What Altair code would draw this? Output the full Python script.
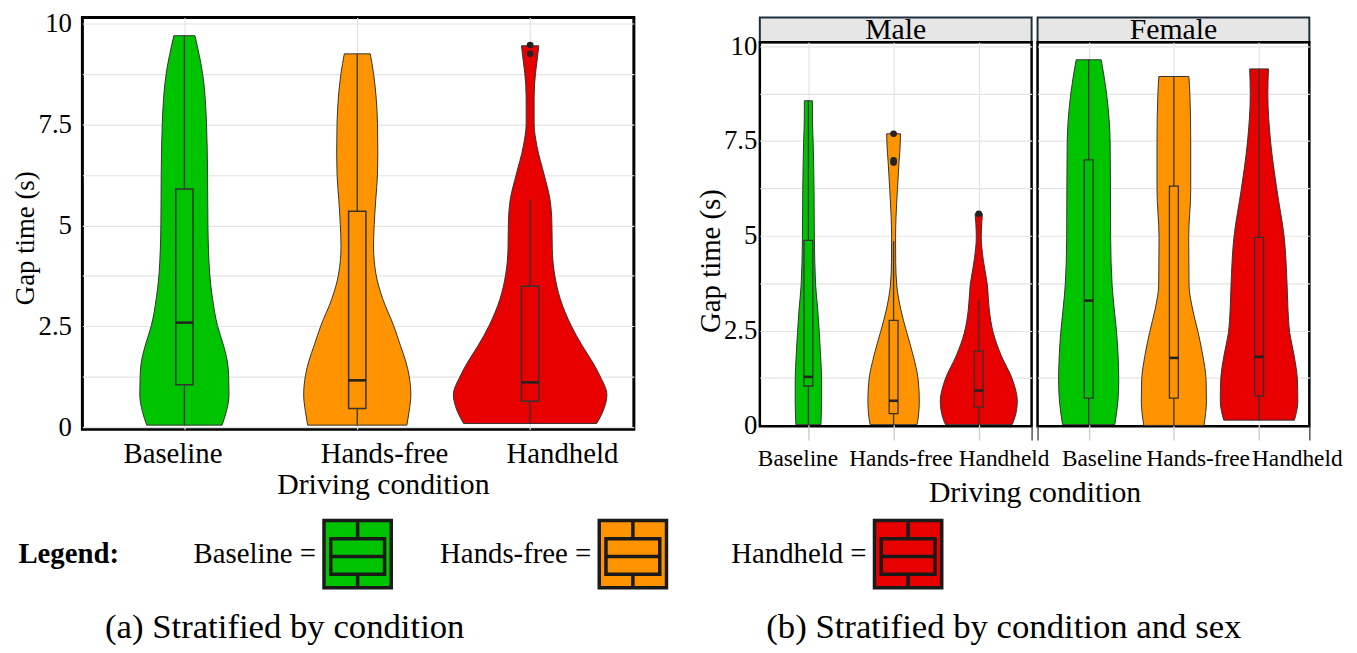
import altair as alt
import pandas as pd

FONT = "Liberation Serif"
CONDITIONS = ["Baseline", "Hands-free", "Handheld"]
COLORS = ["#00c300", "#ff9400", "#e80000"]
SEXES = ["Male", "Female"]
CAPTIONS = ["(a) Stratified by condition", "(b) Stratified by condition and sex"]
LEGEND_TITLE = "Legend:"
Y_TITLE = "Gap time (s)"
X_TITLE = "Driving condition"
Y_TICKS = [0, 1.25, 2.5, 3.75, 5, 6.25, 7.5, 8.75, 10]

# ---- (a) all drivers: violin outline (gap time level, half width in category units)
ALL_BASE_Y = [9.70, 8.77, 7.52, 6.27, 5.02, 3.77, 3.18, 2.52, 2.03, 1.62, 1.27, 0.80, 0.39, 0.05]
ALL_BASE_W = [0.061, 0.105, 0.128, 0.134, 0.136, 0.147, 0.163, 0.191, 0.226, 0.249, 0.256, 0.258, 0.243, 0.218]
ALL_FREE_Y = [9.25, 8.77, 8.18, 7.52, 6.79, 6.27, 5.64, 5.02, 4.49, 3.77, 3.18, 2.52, 2.03, 1.62, 1.27, 0.80, 0.39, 0.05]
ALL_FREE_W = [0.075, 0.094, 0.109, 0.117, 0.119, 0.117, 0.107, 0.098, 0.094, 0.109, 0.147, 0.210, 0.249, 0.281, 0.300, 0.310, 0.300, 0.287]
ALL_HELD_Y = [9.45, 9.08, 8.77, 8.18, 7.52, 6.95, 6.27, 5.64, 5.02, 4.41, 3.77, 3.18, 2.52, 2.03, 1.62, 1.27, 0.80, 0.39, 0.09]
ALL_HELD_W = [0.050, 0.040, 0.031, 0.023, 0.023, 0.040, 0.080, 0.115, 0.126, 0.128, 0.142, 0.174, 0.237, 0.300, 0.360, 0.404, 0.444, 0.421, 0.385]
# box statistics (Baseline, Hands-free, Handheld)
ALL_LO = [0.05, 0.05, 0.09]
ALL_Q1 = [1.05, 0.46, 0.64]
ALL_MED = [2.59, 1.16, 1.11]
ALL_Q3 = [5.90, 5.35, 3.49]
ALL_HI = [9.70, 9.25, 5.64]
ALL_OUT_COND = ["Handheld", "Handheld"]
ALL_OUT_Y = [9.47, 9.25]

# ---- (b) male
M_BASE_Y = [8.56, 8.03, 7.47, 6.22, 4.96, 3.70, 3.07, 2.45, 1.85, 1.20, 0.64, 0.02]
M_BASE_W = [0.047, 0.048, 0.056, 0.066, 0.070, 0.085, 0.109, 0.128, 0.143, 0.155, 0.155, 0.147]
M_FREE_Y = [7.69, 7.42, 6.95, 6.22, 5.51, 4.96, 4.29, 3.70, 3.07, 2.45, 1.85, 1.20, 0.64, 0.20, 0.02]
M_FREE_W = [0.081, 0.078, 0.064, 0.045, 0.029, 0.023, 0.025, 0.037, 0.083, 0.155, 0.229, 0.289, 0.302, 0.289, 0.275]
M_HELD_Y = [5.58, 5.34, 4.96, 4.38, 3.70, 3.07, 2.45, 1.85, 1.20, 0.64, 0.20, 0.02]
M_HELD_W = [0.043, 0.035, 0.029, 0.052, 0.101, 0.122, 0.169, 0.262, 0.397, 0.452, 0.422, 0.391]
M_LO = [0.02, 0.02, 0.02]
M_Q1 = [1.04, 0.31, 0.48]
M_MED = [1.28, 0.65, 0.92]
M_Q3 = [4.88, 2.77, 1.96]
M_HI = [8.56, 4.86, 3.32]
M_OUT_COND = ["Hands-free", "Hands-free", "Hands-free", "Handheld"]
M_OUT_Y = [7.69, 6.99, 6.93, 5.58]

# ---- (b) female
F_BASE_Y = [9.64, 8.73, 7.47, 6.22, 4.96, 3.70, 3.07, 2.45, 1.85, 1.20, 0.64, 0.02]
F_BASE_W = [0.147, 0.211, 0.252, 0.256, 0.258, 0.275, 0.300, 0.328, 0.345, 0.353, 0.343, 0.306]
F_FREE_Y = [9.20, 8.73, 7.47, 6.22, 4.96, 3.70, 3.07, 2.45, 1.85, 1.20, 0.64, 0.00]
F_FREE_W = [0.176, 0.188, 0.198, 0.198, 0.174, 0.178, 0.219, 0.285, 0.339, 0.378, 0.382, 0.353]
F_HELD_Y = [9.40, 8.73, 7.47, 6.22, 4.96, 3.70, 3.07, 2.45, 1.85, 1.20, 0.64, 0.14]
F_HELD_W = [0.110, 0.103, 0.136, 0.209, 0.295, 0.329, 0.339, 0.359, 0.411, 0.450, 0.455, 0.415]
F_LO = [0.02, 0.00, 0.14]
F_Q1 = [0.72, 0.72, 0.78]
F_MED = [3.29, 1.78, 1.81]
F_Q3 = [7.00, 6.31, 4.96]
F_HI = [9.64, 9.20, 9.40]

# ---------------- tables built from the lists
violin_parts = [
    ("All", "Baseline", ALL_BASE_Y, ALL_BASE_W),
    ("All", "Hands-free", ALL_FREE_Y, ALL_FREE_W),
    ("All", "Handheld", ALL_HELD_Y, ALL_HELD_W),
    ("Male", "Baseline", M_BASE_Y, M_BASE_W),
    ("Male", "Hands-free", M_FREE_Y, M_FREE_W),
    ("Male", "Handheld", M_HELD_Y, M_HELD_W),
    ("Female", "Baseline", F_BASE_Y, F_BASE_W),
    ("Female", "Hands-free", F_FREE_Y, F_FREE_W),
    ("Female", "Handheld", F_HELD_Y, F_HELD_W),
]
rows = []
for panel, cond, ys, ws in violin_parts:
    for y, w in zip(ys, ws):
        rows.append({"panel": panel, "cond": cond, "pos": CONDITIONS.index(cond) + 1, "y": y, "hw": w})
violins = pd.DataFrame(rows)

box_parts = [
    ("All", ALL_LO, ALL_Q1, ALL_MED, ALL_Q3, ALL_HI),
    ("Male", M_LO, M_Q1, M_MED, M_Q3, M_HI),
    ("Female", F_LO, F_Q1, F_MED, F_Q3, F_HI),
]
brows = []
for panel, lo, q1, med, q3, hi in box_parts:
    for i, cond in enumerate(CONDITIONS):
        brows.append({"panel": panel, "cond": cond, "pos": i + 1, "lo": lo[i], "q1": q1[i],
                      "med": med[i], "q3": q3[i], "hi": hi[i]})
boxes = pd.DataFrame(brows)

orows = []
for panel, conds, ys in [("All", ALL_OUT_COND, ALL_OUT_Y), ("Male", M_OUT_COND, M_OUT_Y)]:
    for c, y in zip(conds, ys):
        orows.append({"panel": panel, "cond": c, "pos": CONDITIONS.index(c) + 1, "y": y})
outliers = pd.DataFrame(orows)

OUTLINE = "#333333"
GRID = "#e4e4e4"
color_enc = alt.Color("cond:N", scale=alt.Scale(domain=CONDITIONS, range=COLORS), legend=None)

X_LABEL_EXPR = " : ".join(f"datum.value == {i + 1} ? '{c}'" for i, c in enumerate(CONDITIONS)) + " : ''"
Y_LABEL_EXPR = "datum.value % 2.5 == 0 ? format(datum.value, '~g') : ''"
CENTER_TEST = "datum.value == 1 || datum.value == 2 || datum.value == 3"


def make_panel(name, xdom, ydom, width, height, x_axis, y_axis, bw, frame_w, box_sw):
    vd = violins[violins.panel == name]
    bd = boxes[boxes.panel == name]
    od = outliers[outliers.panel == name]
    xs = alt.Scale(domain=xdom, nice=False, zero=False)
    ys = alt.Scale(domain=ydom, nice=False, zero=False)

    area = alt.Chart(vd).transform_calculate(
        lo="datum.pos - datum.hw", hi="datum.pos + datum.hw"
    ).mark_area(orient="horizontal", interpolate="monotone", stroke=OUTLINE,
                strokeWidth=1, opacity=1).encode(
        y=alt.Y("y:Q", scale=ys, axis=y_axis),
        x=alt.X("lo:Q", scale=xs, axis=x_axis, stack=None),
        x2="hi:Q",
        color=color_enc,
        detail="cond:N",
    )
    whisk = alt.Chart(bd).mark_rule(color=OUTLINE, strokeWidth=1.3).encode(
        x=alt.X("pos:Q", scale=xs, axis=x_axis),
        y=alt.Y("lo:Q", scale=ys, axis=y_axis),
        y2="hi:Q",
    )
    box = alt.Chart(bd).transform_calculate(
        bl=f"datum.pos - {bw}", br=f"datum.pos + {bw}"
    ).mark_rect(stroke=OUTLINE, strokeWidth=box_sw, opacity=1).encode(
        x=alt.X("bl:Q", scale=xs, axis=x_axis),
        x2="br:Q",
        y=alt.Y("q1:Q", scale=ys, axis=y_axis),
        y2="q3:Q",
        color=color_enc,
    )
    med = alt.Chart(bd).transform_calculate(
        bl=f"datum.pos - {bw}", br=f"datum.pos + {bw}"
    ).mark_rule(color="#222222", strokeWidth=2.6).encode(
        x=alt.X("bl:Q", scale=xs, axis=x_axis),
        x2="br:Q",
        y=alt.Y("med:Q", scale=ys, axis=y_axis),
    )
    layers = [area, whisk, box, med]
    if len(od):
        pts = alt.Chart(od).mark_circle(size=45, color="#222222", opacity=1).encode(
            x=alt.X("pos:Q", scale=xs, axis=x_axis),
            y=alt.Y("y:Q", scale=ys, axis=y_axis),
        )
        layers.append(pts)
    return alt.layer(*layers).properties(
        width=width, height=height,
        view=alt.ViewBackground(stroke="black", strokeWidth=frame_w),
    )


# ---------------- (a) left panel
left_x_axis = alt.Axis(
    values=[1, 2, 3], labelExpr=X_LABEL_EXPR,
    labelOffset={"expr": "datum.value == 1 ? -12 : datum.value == 2 ? 27 : 32"},
    labelFontSize=29, labelPadding=11, labelFlush=False, labelOverlap=False,
    ticks=False, domain=False, grid=True, gridColor=GRID, gridWidth=1.2,
    title=X_TITLE, titleFontSize=30, titleFontWeight="normal",
    titleX=303, titleY=56, titleBaseline="middle", titleAlign="center",
)
left_y_axis = alt.Axis(
    values=Y_TICKS, labelExpr=Y_LABEL_EXPR, labelFontSize=27, labelPadding=11,
    labelFlush=False, labelOverlap=False,
    ticks=False, domain=False, grid=True, gridColor=GRID, gridWidth=1.2,
    title=Y_TITLE, titleFontSize=27, titleFontWeight="normal",
    titleX=-57, titleY=222, titleBaseline="middle", titleAlign="center",
)
left = make_panel("All", [0.41, 3.60], [-0.05, 10.15], 556, 415, left_x_axis, left_y_axis, 0.05, 3, 1.5)

# ---------------- (b) right panels
M_XDOM = [0.43, 3.62]
F_XDOM = [0.40, 3.59]


def right_x_axis(values, offset_expr, title):
    return alt.Axis(
        values=values, labelExpr=X_LABEL_EXPR,
        labelOffset={"expr": offset_expr},
        labelFontSize=23.5, labelPadding=7, labelFlush=False, labelOverlap=False,
        ticks=True, tickSize=14, tickWidth=1.5,
        tickColor={"expr": f"{CENTER_TEST} ? '#d0d0d0' : '#555555'"},
        domain=False, grid=True, gridColor=GRID, gridWidth=1.2,
        gridOpacity={"expr": f"{CENTER_TEST} ? 1 : 0"},
        title=title, titleFontSize=30, titleFontWeight="normal",
        titleX=277, titleY=67, titleBaseline="middle", titleAlign="center",
    )


RIGHT_Y_GRID_OPACITY = {"expr": "datum.value == 0 ? 0 : 1"}
male_y_axis = alt.Axis(
    values=Y_TICKS, labelExpr=Y_LABEL_EXPR, labelFontSize=27, labelPadding=3,
    labelFlush=False, labelOverlap=False,
    ticks=False, domain=False, grid=True, gridColor=GRID, gridWidth=1.2,
    gridOpacity=RIGHT_Y_GRID_OPACITY,
    title=Y_TITLE, titleFontSize=29, titleFontWeight="normal",
    titleX=-50, titleY=220, titleBaseline="middle", titleAlign="center",
)
female_y_axis = alt.Axis(
    values=Y_TICKS, labels=False, ticks=False, domain=False, grid=True,
    gridColor=GRID, gridWidth=1.2, gridOpacity=RIGHT_Y_GRID_OPACITY, title="",
)

male = make_panel("Male", M_XDOM, [-0.02, 10.1], 274, 387,
                  right_x_axis([1, 2, 3, M_XDOM[1]],
                               "datum.value == 1 ? -11 : datum.value == 2 ? 7 : 25", X_TITLE),
                  male_y_axis, 0.052, 2.5, 1.3)
female = make_panel("Female", F_XDOM, [-0.02, 10.1], 274, 387,
                    right_x_axis([F_XDOM[0], 1, 2, 3, F_XDOM[1]],
                                 "datum.value == 1 ? 13 : datum.value == 2 ? 24 : 38", ""),
                    female_y_axis, 0.052, 2.5, 1.3)


def strip(label):
    return alt.Chart(pd.DataFrame({"sex": [label]})).mark_text(
        fontSize=30, font=FONT, color="black", baseline="middle"
    ).encode(text="sex:N").properties(
        width=274, height=25,
        view=alt.ViewBackground(fill="#e6e6e6", stroke="#1c2f3a", strokeWidth=2),
    )


right_grid = alt.concat(
    strip(SEXES[0]), strip(SEXES[1]), male, female,
    columns=2, spacing={"row": 0, "column": 6}, bounds="flush",
)
top_row = alt.hconcat(left, right_grid, spacing=127, bounds="flush")

# ---------------- legend row
GLYPH = ("M-1,-1H1V1H-1Z M-0.8,-0.46H0.8V0.6H-0.8Z "
         "M0,-1V-0.46 M0,0.6V1 M-0.8,0.07H0.8")
leg_df = pd.DataFrame({"cond": CONDITIONS, "label": [c + " =" for c in CONDITIONS]})
leg_x = alt.X("cond:N", scale=alt.Scale(type="point", domain=CONDITIONS, padding=1.04), axis=None)
glyphs = alt.Chart(leg_df).mark_point(
    shape=GLYPH, size=4600, filled=True, opacity=1, stroke="#1a1a1a", strokeWidth=3.5
).encode(x=leg_x, color=color_enc)
glyph_labels = alt.Chart(leg_df).mark_text(
    align="right", baseline="middle", dx=-42, fontSize=29, font=FONT, color="black"
).encode(x=leg_x, text="label:N")
legend_row = alt.layer(glyphs, glyph_labels).properties(
    width=1110, height=78,
    title=alt.TitleParams(LEGEND_TITLE, orient="left", angle=0, align="left",
                          baseline="middle", anchor="middle", fontSize=29,
                          fontWeight="bold", font=FONT, color="black", offset=-37),
)

# ---------------- caption row
cap_df = pd.DataFrame({"cap": CAPTIONS})
caption_row = alt.Chart(cap_df).mark_text(
    fontSize=35, font=FONT, color="black", baseline="middle", dy=9
).encode(
    x=alt.X("cap:N", scale=alt.Scale(type="point", domain=CAPTIONS, padding=0.2814), axis=None),
    text="cap:N",
).properties(width=1133, height=40)

chart = alt.vconcat(top_row, legend_row, caption_row, spacing=4).properties(
    padding={"left": 2, "top": -3, "right": 0, "bottom": 0}
).configure(font=FONT).configure_view(strokeWidth=0).configure_axis(
    labelColor="black", titleColor="black", labelFont=FONT, titleFont=FONT
).configure_text(font=FONT).configure_title(font=FONT)

chart.save("out.html", embed_options={"renderer": "svg", "actions": False})
